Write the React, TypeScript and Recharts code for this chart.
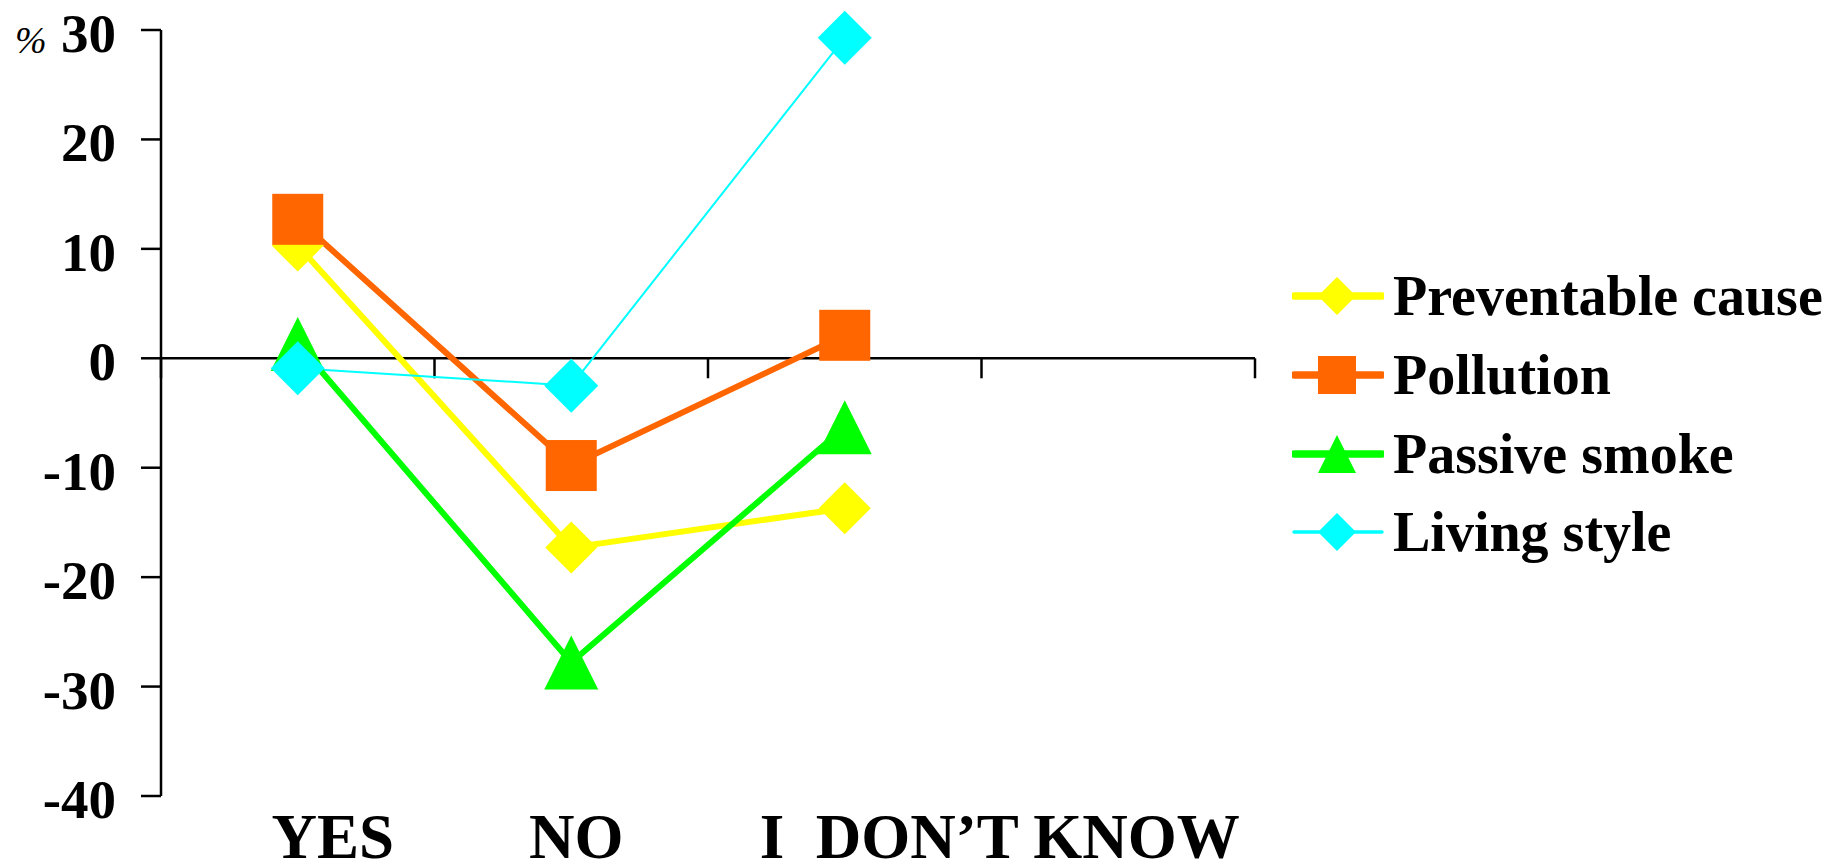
import React from "react";
import { LineChart, Line, XAxis, YAxis, ReferenceLine, Legend, Label } from "recharts";

// answers (x) and survey differences in % (y)
const categories = ["YES", "NO", "I  DON\u2019T KNOW", ""];
const preventableCause = [10.3, -17.3, -13.7];
const pollution = [12.7, -9.8, 2.1];
const passiveSmoke = [1.3, -27.8, -6.3];
const livingStyle = [-0.9, -2.5, 29.3];
const yTicks = [-40, -30, -20, -10, 0, 10, 20, 30];

const FONT = "'Liberation Serif', 'Times New Roman', serif";

const series = [
  { key: "preventable", name: "Preventable cause", values: preventableCause, color: "#FFFF00", width: 6, marker: "diamond", size: 52 },
  { key: "pollution", name: "Pollution", values: pollution, color: "#FF6600", width: 6, marker: "square", size: 51 },
  { key: "passive", name: "Passive smoke", values: passiveSmoke, color: "#00FF00", width: 6, marker: "triangle", size: 54 },
  { key: "living", name: "Living style", values: livingStyle, color: "#00FFFF", width: 2, marker: "diamond", size: 54 },
];

const data = categories.map((category, i) => {
  const row: Record<string, string | number | undefined> = { category };
  series.forEach((s) => {
    row[s.key] = s.values[i];
  });
  return row;
});

// horizontal nudge of the category labels, as in the original slide
const labelShift = [35, 5, 155, 0];

const Marker = ({ shape, cx, cy, size, color }: any) => {
  const h = size / 2;
  if (shape === "square") {
    return <rect x={cx - h} y={cy - h} width={size} height={size} fill={color} />;
  }
  if (shape === "triangle") {
    return <polygon points={`${cx},${cy - h} ${cx + h},${cy + h} ${cx - h},${cy + h}`} fill={color} />;
  }
  return <polygon points={`${cx},${cy - h} ${cx + h},${cy} ${cx},${cy + h} ${cx - h},${cy}`} fill={color} />;
};

// x axis drawn at y = 0 with tick marks between categories
const ZeroAxis = (props: any) => {
  const { x1, y1, x2 } = props;
  const step = (x2 - x1) / categories.length;
  const marks = [];
  for (let i = 0; i <= categories.length; i++) marks.push(x1 + i * step);
  return (
    <g>
      <line x1={x1} y1={y1} x2={x2} y2={y1} stroke="#000" strokeWidth={2.5} />
      {marks.map((mx, i) => (
        <line key={i} x1={mx} y1={y1} x2={mx} y2={y1 + 20} stroke="#000" strokeWidth={2.5} />
      ))}
    </g>
  );
};

const XTick = ({ x, y, payload, index }: any) => (
  <text
    x={x + (labelShift[index] || 0)}
    y={y + 62}
    textAnchor="middle"
    fontFamily={FONT}
    fontSize={63}
    fontWeight="bold"
    fill="#000"
    style={{ whiteSpace: "pre" }}
  >
    {payload.value}
  </text>
);

const YTick = ({ x, y, payload }: any) => (
  <text x={x} y={y} dy="0.4em" textAnchor="end" fontFamily={FONT} fontSize={55} fontWeight="bold" fill="#000">
    {payload.value}
  </text>
);

const renderLegend = () => (
  <div>
    {series.map((s) => (
      <div key={s.key} style={{ display: "flex", alignItems: "center", height: 78.7 }}>
        <svg width={92} height={60}>
          <line x1={2} y1={30} x2={90} y2={30} stroke={s.color} strokeWidth={s.width + 1.5} strokeLinecap="round" />
          <Marker shape={s.marker} cx={45} cy={30} size={38} color={s.color} />
        </svg>
        <span
          style={{
            marginLeft: 9,
            fontFamily: FONT,
            fontSize: 56,
            fontWeight: "bold",
            lineHeight: 1,
            color: "#000",
            whiteSpace: "nowrap",
          }}
        >
          {s.name}
        </span>
      </div>
    ))}
  </div>
);

export default function App() {
  return (
    <div style={{ position: "absolute", left: 0, top: 0, width: 1827, height: 864, background: "#fff" }}>
      <LineChart width={1827} height={864} data={data} margin={{ top: 30, right: 572, bottom: 0, left: 0 }}>
        <ReferenceLine y={0} shape={ZeroAxis} />
        <XAxis
          dataKey="category"
          scale="band"
          axisLine={false}
          tickLine={false}
          tickSize={0}
          tickMargin={0}
          interval={0}
          height={68}
          tick={XTick}
        />
        <YAxis
          domain={[-40, 30]}
          ticks={yTicks}
          interval={0}
          width={161}
          axisLine={{ stroke: "#000", strokeWidth: 2.5 }}
          tickLine={{ stroke: "#000", strokeWidth: 2.5 }}
          tickSize={20}
          tickMargin={25}
          tick={YTick}
        >
          <Label
            content={(p: any) => (
              <text
                x={(p.viewBox?.x ?? 0) + 15}
                y={(p.viewBox?.y ?? 30) + 23}
                fontFamily={FONT}
                fontSize={38}
                fontStyle="italic"
                fill="#000"
              >
                %
              </text>
            )}
          />
        </YAxis>
        <Legend
          layout="horizontal"
          verticalAlign="middle"
          align="center"
          wrapperStyle={{ left: 1292, top: 257, width: 535 }}
          content={renderLegend}
        />
        {series.map((s) => (
          <Line
            key={s.key}
            dataKey={s.key}
            name={s.name}
            type="linear"
            stroke={s.color}
            strokeWidth={s.width}
            isAnimationActive={false}
            activeDot={false}
            dot={(p: any) =>
              p.cx == null || p.cy == null || p.value == null ? (
                <g key={`${s.key}-${p.index}`} />
              ) : (
                <Marker key={`${s.key}-${p.index}`} shape={s.marker} cx={p.cx} cy={p.cy} size={s.size} color={s.color} />
              )
            }
          />
        ))}
      </LineChart>
    </div>
  );
}
